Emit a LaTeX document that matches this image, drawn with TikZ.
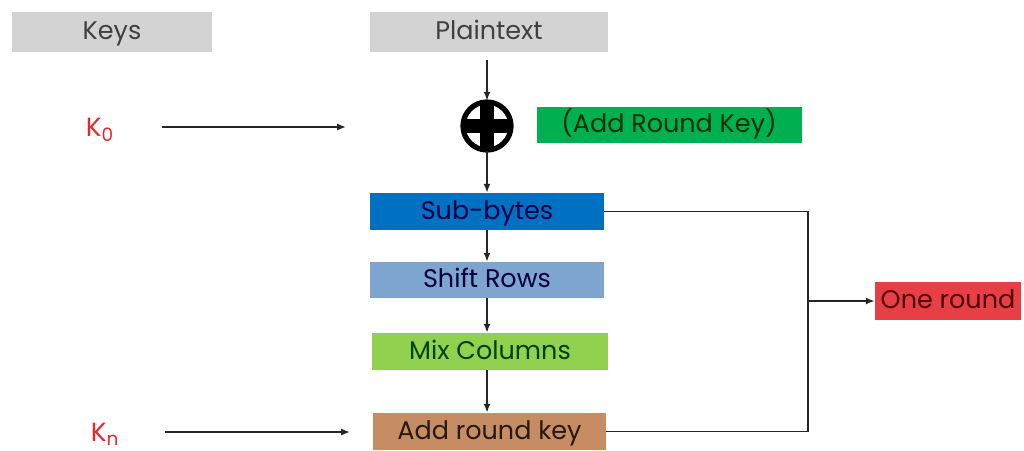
\documentclass[tikz,border=0pt]{standalone}
\usepackage{fontspec}
\setmainfont{Poppins}
\usetikzlibrary{arrows.meta}
\definecolor{cgray}{RGB}{211,211,211}
\definecolor{cgreen}{RGB}{0,176,80}
\definecolor{cblue}{RGB}{0,112,192}
\definecolor{clblue}{RGB}{125,165,205}
\definecolor{clgreen}{RGB}{146,208,80}
\definecolor{cbrown}{RGB}{198,140,100}
\definecolor{cred}{RGB}{232,62,70}
\definecolor{kred}{RGB}{230,40,40}
\tikzset{
  box/.style={rectangle, inner sep=0pt, text height=9.5pt, text depth=0.5pt, font=\fontsize{14.5}{16}\selectfont},
  arr/.style={-{Latex[length=5pt,width=4pt]}, line width=0.9pt, black!85},
  ln/.style={line width=1pt, black!85},
  klabel/.style={text=kred, font=\fontsize{15}{17}\selectfont},
}
\begin{document}
\begin{tikzpicture}[x=0.02cm,y=-0.02cm]
\useasboundingbox (0,0) rectangle (1024,450);
\node[box, fill=cgray, text=black!75, minimum width=200*0.02cm, minimum height=40*0.02cm] (keys) at (112,32) {Keys};
\node[box, fill=cgray, text=black!75, minimum width=238*0.02cm, minimum height=40*0.02cm] (plain) at (489,32) {Plaintext};
\node[circle, fill=white, minimum size=50*0.02cm, inner sep=0pt] (xor) at (487,126) {};
\draw[line width=8pt] (xor.north) -- (xor.south);
\draw[line width=8pt] (xor.west) -- (xor.east);
\draw[line width=3pt] (xor) circle (24);
\node[box, fill=cgreen, text=black!80!green, minimum width=265*0.02cm, minimum height=36*0.02cm] (ark0) at (669,125) {(Add Round Key)};
\node[klabel] (k0) at (100,130) {K\textsubscript{0}};
\coordinate (k0end) at (346,127);
\coordinate (k0start) at (162,127);
\draw[arr] (k0start) -- (k0end);
\node[box, fill=cblue, text=blue!30!black, minimum width=234*0.02cm, minimum height=37*0.02cm] (sub) at (487,211.5) {Sub-bytes};
\node[box, fill=clblue, text=black!75!blue, minimum width=234*0.02cm, minimum height=36*0.02cm] (shift) at (487,280) {Shift Rows};
\node[box, fill=clgreen, text=black!75!green, minimum width=236*0.02cm, minimum height=37*0.02cm] (mix) at (490,351.5) {Mix Columns};
\node[box, fill=cbrown, text=black!80!brown, minimum width=233*0.02cm, minimum height=37*0.02cm] (ark) at (489.5,431.5) {Add round key};
\node[klabel] (kn) at (105,434) {K\textsubscript{n}};
\coordinate (knstart) at (165,432);
\coordinate (knend) at (350,432);
\draw[arr] (knstart) -- (knend);
\node[box, fill=cred, text=black!70!red, minimum width=146*0.02cm, minimum height=38*0.02cm] (one) at (948,301) {One round};
\coordinate (pl0) at (487,60);
\draw[arr] (pl0) -- (xor.north);
\draw[arr] (xor.south) -- (sub.north -| xor.south);
\draw[arr] (sub.south -| xor) -- (shift.north -| xor);
\draw[arr] (shift.south -| xor) -- (mix.north -| xor);
\draw[arr] (mix.south -| xor) -- (ark.north -| xor);
\coordinate (bend) at (808,301);
\draw[ln] (sub.east) -| (bend) |- (ark.east);
\draw[arr] (bend) -- (one.west);
\end{tikzpicture}
\end{document}
